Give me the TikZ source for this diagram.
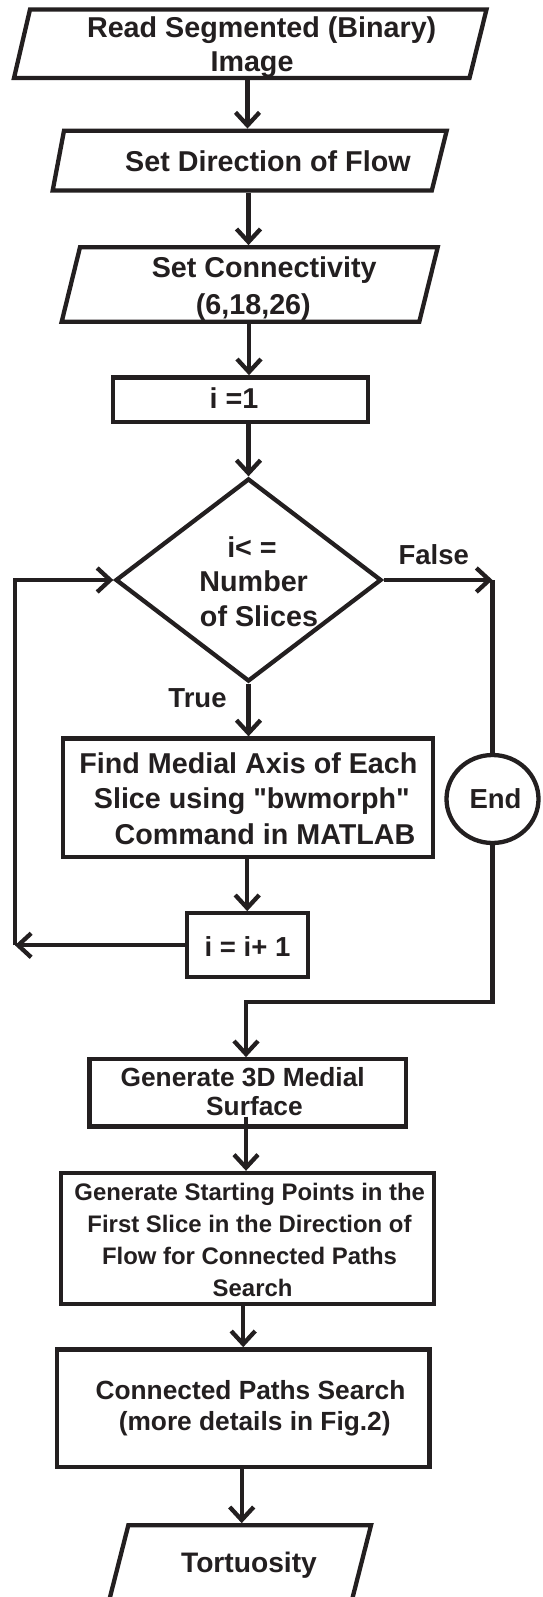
\documentclass[tikz,border=0pt]{standalone}
\usepackage{fontspec}
\setmainfont{Liberation Sans}
\usetikzlibrary{arrows.meta,shapes.geometric}
\definecolor{ink}{RGB}{35,31,32}
\begin{document}
\begin{tikzpicture}[x=1pt,y=-1pt,
  ln/.style={draw=ink,line width=4.3pt},
  arr/.style={ln,-{Straight Barb[length=13pt,width=24pt]}},
  rbox/.style={draw=ink,line width=4.3pt,rectangle,inner sep=0pt},
  pbox/.style={rectangle,inner sep=0pt,outer sep=2.15pt},
  t/.style={text=ink,anchor=base,inner sep=0pt,font=\fontsize{28.7pt}{34pt}\selectfont\bfseries},
  tl/.style={t,font=\fontsize{27.5pt}{33pt}\selectfont\bfseries},
  tm/.style={t,font=\fontsize{26.3pt}{31pt}\selectfont\bfseries},
  ts/.style={t,font=\fontsize{23.9pt}{28pt}\selectfont\bfseries},
  tt/.style={t,font=\fontsize{28.2pt}{33pt}\selectfont\bfseries}]
\useasboundingbox (0,0) rectangle (542,1597);
\clip (0,0) rectangle (542,1597);
\fill[white] (0,0) rectangle (542,1597);

% ---- shapes ----
\node[pbox,minimum width=440pt,minimum height=68.5pt] (b1) at (250,43.75) {};
\draw[ln] (30,9.5) -- (486.5,9.5) -- (469.5,78) -- (14,78) -- cycle;

\node[pbox,minimum width=380pt,minimum height=59.8pt] (b2) at (249,160.6) {};
\draw[ln] (64,130.7) -- (446.7,130.7) -- (431.8,190.5) -- (52.7,190.5) -- cycle;

\node[pbox,minimum width=357pt,minimum height=74.4pt] (b3) at (249,284.5) {};
\draw[ln] (80,247.3) -- (437.7,247.3) -- (419.3,321.7) -- (61.7,321.7) -- cycle;

\node[rbox,minimum width=255pt,minimum height=44.7pt] (b4) at (240.8,399.7) {};

\node[ln,shape=diamond,inner sep=0pt,minimum width=266pt,minimum height=203pt] (d) at (248.5,580) {};

\node[rbox,minimum width=370pt,minimum height=118.8pt] (b5) at (248.3,797.9) {};
\node[rbox,minimum width=120.9pt,minimum height=64pt] (b6) at (247.2,945.3) {};
\node[ln,shape=ellipse,inner sep=0pt,minimum width=92pt,minimum height=88pt] (e) at (492.5,799) {};

\node[rbox,minimum width=316.7pt,minimum height=67.2pt] (b7) at (247.7,1092.9) {};
\node[rbox,minimum width=372.8pt,minimum height=130.7pt] (b8) at (247.4,1238.3) {};
\node[rbox,minimum width=372.8pt,minimum height=117.7pt] (b9) at (243.2,1408.2) {};

\node[pbox,minimum width=242.7pt,minimum height=70pt] (b10) at (249.6,1560.3) {};
\draw[ln] (128.3,1525.3) -- (371,1525.3) -- (346.8,1620.3) -- (104.1,1620.3) -- cycle;

% ---- texts ----
\node[t] (t1a) at (261.7,37.8) {Read Segmented (Binary)};
\node[t] (t1b) at (252,71.1) {Image};
\node[t] (t2) at (267.9,172) {Set Direction of Flow};
\node[t] (t3a) at (264.2,277.8) {Set Connectivity};
\node[t] (t3b) at (253.3,314.5) {(6,18,26)};
\node[t] (t4) at (234,408.3) {i =1};
\node[t] (d1) at (252,557.8) {i< =};
\node[t] (d2) at (253.7,591.3) {Number};
\node[t] (d3) at (259,626.3) {of Slices};
\node[tl] (fl) at (433.7,564.8) {False};
\node[tl] (tr) at (197.5,707.8) {True};
\node[t] (t5a) at (248.4,773.3) {Find Medial Axis of Each};
\node[t] (t5b) at (251.8,808.1) {Slice using \textquotedbl bwmorph\textquotedbl};
\node[t] (t5c) at (265,844.1) {Command in MATLAB};
\node[tl] (t6) at (247.5,956.8) {i = i+ 1};
\node[tl] (te) at (495.5,808.1) {End};
\node[tm] (t7a) at (242.7,1086.4) {Generate 3D Medial};
\node[tm] (t7b) at (254.4,1115.8) {Surface};
\node[ts] (t8a) at (249.7,1200.6) {Generate Starting Points in the};
\node[ts] (t8b) at (249.5,1232.3) {First Slice in the Direction of};
\node[ts] (t8c) at (249.5,1264.6) {Flow for Connected Paths};
\node[ts] (t8d) at (252.6,1296.2) {Search};
\node[tm] (t9a) at (250.5,1399.4) {Connected Paths Search};
\node[tm] (t9b) at (254.7,1430.9) {(more details in Fig.2)};
\node[tt] (t10) at (249,1572.8) {Tortuosity};

% ---- connectors ----
\coordinate (c1) at (247.5,0);
\coordinate (c2) at (248.5,0);
\coordinate (c3) at (249,0);
\coordinate (c7) at (246,0);
\coordinate (c9) at (241.7,0);
\coordinate (lb) at (15,945.3);
\coordinate (lt) at (15,580);
\coordinate (fr) at (492.5,580);
\coordinate (mg) at (246,1002);
\coordinate (s7) at ([yshift=12pt]b7.south);

\draw[arr] (b1.south -| c1) -- (b2.north -| c1);
\draw[arr] (b2.south -| c2) -- (b3.north -| c2);
\draw[arr] (b3.south -| c3) -- (b4.north -| c3);
\draw[arr] (b4.south -| d.north) -- (d.north);
\draw[arr] (d.south) -- (d.south |- b5.north);
\draw[arr] (b5.south -| b6.north) -- (b6.north);
\draw[arr] (b6.west) -- (lb);
\draw[arr] (lb) -- (lt) -- (d.west);
\draw[arr] (d.east) -- (fr);
\draw[ln] (fr) -- (e.north);
\draw[arr] (e.south) |- (mg) -- (mg |- b7.north);
\draw[arr] (s7 -| c7) -- (b8.north -| c7);
\draw[arr] (b8.south -| b9.north) -- (b9.north);
\draw[arr] (b9.south -| c9) -- (b10.north -| c9);
\end{tikzpicture}
\end{document}
